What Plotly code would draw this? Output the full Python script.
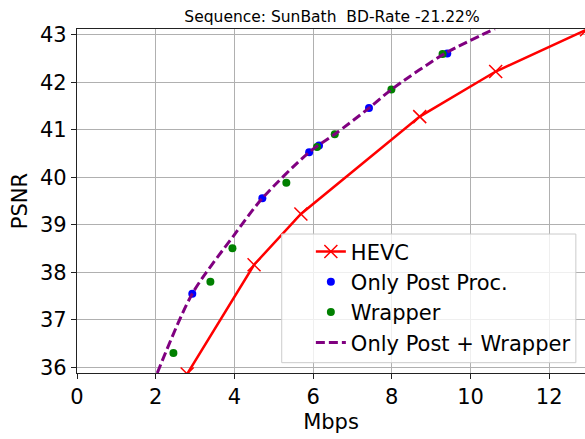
import plotly.graph_objects as go

# Data
hevc_rate = [2.80, 4.50, 5.69, 8.71, 10.64, 12.95]
hevc_psnr = [35.86, 38.16, 39.23, 41.28, 42.23, 43.11]

post_rate = [2.93, 4.71, 5.90, 6.15, 7.42, 9.41]
post_psnr = [37.55, 39.56, 40.53, 40.67, 41.46, 42.61]

wrap_rate = [2.45, 3.39, 3.95, 5.32, 6.10, 6.55, 7.99, 9.29]
wrap_psnr = [36.30, 37.80, 38.51, 39.89, 40.64, 40.91, 41.85, 42.60]

comb_rate = [2.04, 2.93, 3.97, 4.71, 5.90, 6.55, 7.42, 7.99, 9.35, 10.62]
comb_psnr = [35.88, 37.55, 38.76, 39.56, 40.53, 40.91, 41.46, 41.85, 42.61, 43.13]

x_ticks = [0, 2, 4, 6, 8, 10, 12]
y_ticks = [36, 37, 38, 39, 40, 41, 42, 43]

title_text = "Sequence: SunBath\u00a0 BD-Rate -21.22%"

FONT = "DejaVu Sans"

fig = go.Figure()
fig.add_trace(go.Scatter(x=hevc_rate, y=hevc_psnr, mode="lines+markers", name="HEVC",
                         line=dict(color="#ff0000", width=2.5),
                         marker=dict(symbol="x-thin", size=13, line=dict(color="#ff0000", width=1.5))))
fig.add_trace(go.Scatter(x=post_rate, y=post_psnr, mode="markers", name="Only Post Proc.",
                         marker=dict(color="#0000ff", size=8)))
fig.add_trace(go.Scatter(x=wrap_rate, y=wrap_psnr, mode="markers", name="Wrapper",
                         marker=dict(color="#008000", size=8)))
fig.add_trace(go.Scatter(x=comb_rate, y=comb_psnr, mode="lines", name="Only Post + Wrapper",
                         line=dict(color="#800080", width=3, dash="9px,4px", shape="spline", smoothing=0.8)))

# legend frame (matplotlib-style, wider than plotly's own legend box)
fig.add_shape(type="rect", xref="paper", yref="paper", x0=0.403, x1=0.982, y0=0.030, y1=0.404,
              fillcolor="rgba(255,255,255,0.8)", line=dict(color="#cccccc", width=1), layer="above")

fig.update_layout(
    width=585, height=439,
    margin=dict(l=77, r=0, t=29, b=66, autoexpand=False),
    paper_bgcolor="white", plot_bgcolor="white",
    font=dict(family=FONT, color="black", size=20),
    title=dict(text=title_text, font=dict(size=15.5, family=FONT, color="black"),
               x=(332 - 77) / 508, xref="paper", xanchor="center",
               y=1 - 17 / 439, yref="container", yanchor="middle"),
    legend=dict(x=0.982, y=0.028, xanchor="right", yanchor="bottom",
                bgcolor="rgba(0,0,0,0)", borderwidth=0,
                font=dict(size=21, family=FONT, color="black")),
    showlegend=True,
)
fig.update_xaxes(range=[0, 12.91], tickvals=x_ticks, ticktext=[str(v) for v in x_ticks],
                 showgrid=True, gridcolor="#b0b0b0", gridwidth=1,
                 showline=True, linecolor="#222222", linewidth=1.2, mirror=True,
                 ticks="outside", ticklen=5, tickcolor="#222222",
                 zeroline=False, tickfont=dict(size=21),
                 title=dict(text="Mbps", standoff=6, font=dict(size=21)))
fig.update_yaxes(range=[35.88, 43.126], tickvals=y_ticks, ticktext=[str(v) for v in y_ticks],
                 showgrid=True, gridcolor="#b0b0b0", gridwidth=1,
                 showline=True, linecolor="#222222", linewidth=1.2, mirror=False,
                 ticks="outside", ticklen=5, tickcolor="#222222",
                 zeroline=False, tickfont=dict(size=21),
                 title=dict(text="PSNR", standoff=6, font=dict(size=21)))

fig.write_html("out.html", config={"displayModeBar": False},
               post_script="document.body.style.margin='0px';document.body.style.overflow='hidden';")
